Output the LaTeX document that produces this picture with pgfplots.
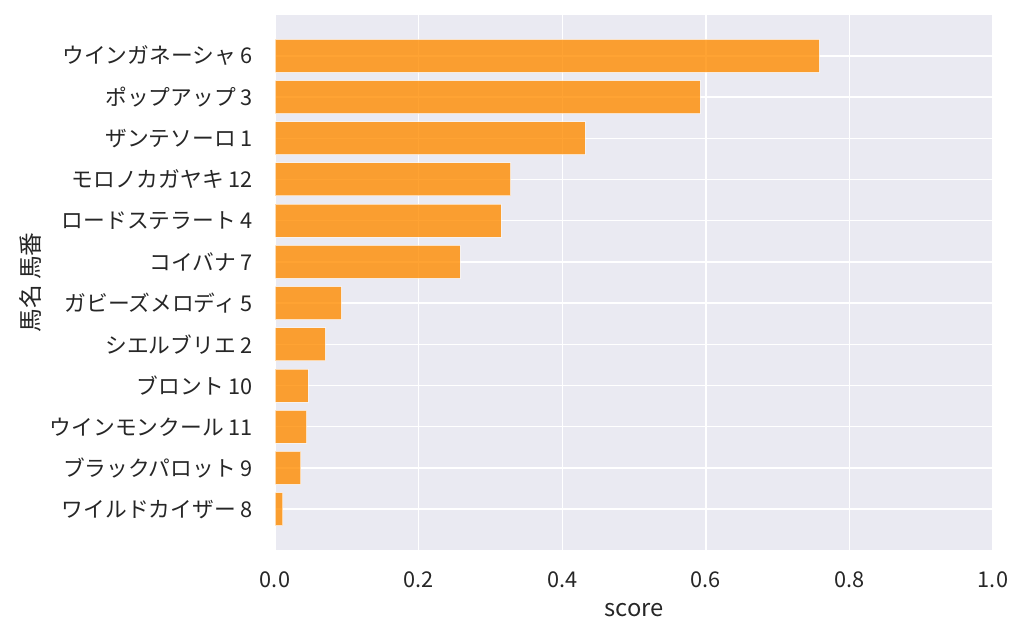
\documentclass[border=0pt]{standalone}
\usepackage{pgfplots}
\pgfplotsset{compat=1.18}
\usepackage{fontspec}
\setmainfont{Noto Sans CJK JP}
\definecolor{bgc}{HTML}{EAEAF2}
\definecolor{txt}{HTML}{262626}
\definecolor{barc}{RGB}{255,140,0}
\begin{document}
\begin{tikzpicture}
\path[use as bounding box] (0,0) rectangle (768pt,480.75pt);
\begin{axis}[
  at={(206.25pt,68.25pt)}, anchor=south west,
  scale only axis, width=538.5pt, height=401.25pt,
  xmin=0, xmax=1, ymin=-0.99, ymax=11.99, y dir=reverse,
  axis background/.style={fill=bgc},
  axis line style={draw=none},
  major tick length=0pt,
  grid=major, major grid style={white, line width=1.05pt},
  xtick={0,0.2,0.4,0.6,0.8,1.0},
  ytick={0,...,11},
  yticklabels={ウインガネーシャ 6,ポップアップ 3,ザンテソーロ 1,モロノカガヤキ 12,ロードステラート 4,コイバナ 7,ガビーズメロディ 5,シエルブリエ 2,ブロント 10,ウインモンクール 11,ブラックパロット 9,ワイルドカイザー 8},
  xticklabel style={/pgf/number format/fixed, /pgf/number format/fixed zerofill, /pgf/number format/precision=1, /pgf/number format/assume math mode=true, font=\fontsize{16.3pt}{18pt}\selectfont, text=txt, anchor=center, inner sep=0pt, yshift=-22.5pt},
  yticklabel style={font=\fontsize{16.3pt}{18pt}\selectfont, text=txt, anchor=east, inner sep=0pt, xshift=-16.5pt},
  xlabel={score}, ylabel={馬名 馬番},
  every axis x label/.style={at={(axis description cs:0.5,0)}, anchor=center, yshift=-45pt, font=\fontsize{17.8pt}{20pt}\selectfont, text=txt},
  every axis y label/.style={at={(axis description cs:0,0.5)}, xshift=-183.75pt, anchor=center, rotate=90, font=\fontsize{17.8pt}{20pt}\selectfont, text=txt},
  xbar, bar width=0.8, bar shift=0pt,
]
\addplot[fill=barc, fill opacity=0.8, draw=white, draw opacity=0.6, line width=0.75pt] coordinates {
(0.758,0) (0.592,1) (0.432,2) (0.328,3) (0.315,4) (0.258,5) (0.0925,6) (0.070,7) (0.046,8) (0.044,9) (0.036,10) (0.011,11)
};
\end{axis}
\end{tikzpicture}
\end{document}
